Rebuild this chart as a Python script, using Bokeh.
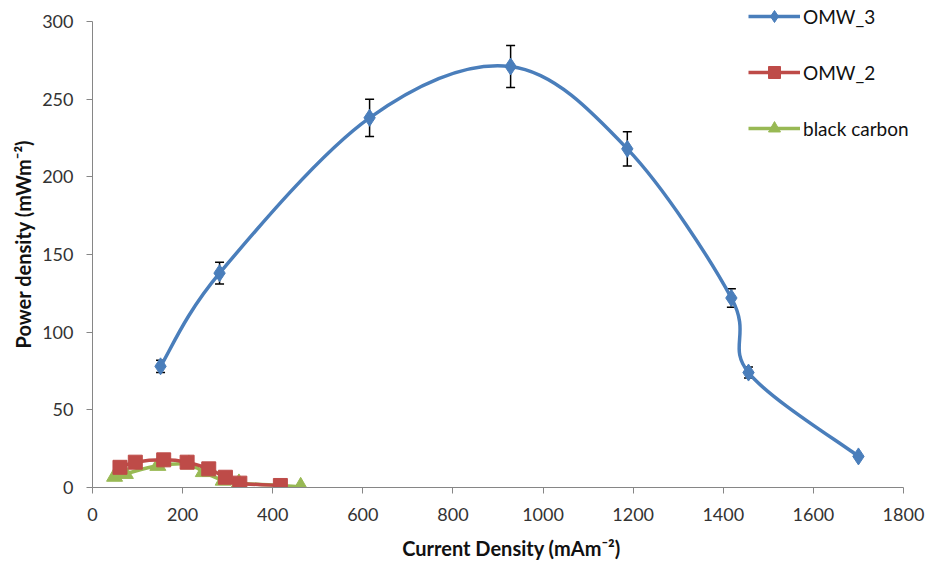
from bokeh.plotting import figure
from bokeh.models import (ColumnDataSource, Whisker, TeeHead, Legend, LegendItem,
                          FixedTicker, Range1d)
from bokeh.embed import file_html
from bokeh.resources import INLINE

# ---- data ----
omw3_x = [151, 282, 615, 928, 1187, 1418, 1456, 1700]
omw3_y = [78, 138, 238, 271, 218, 122, 74, 20]
omw3_err = [4, 7, 12, 13.5, 11, 6, 3.5, 0]

omw2_x = [61, 95, 158, 210, 258, 295, 327, 417]
omw2_y = [13, 16.3, 17.8, 16.3, 12, 6.6, 2.8, 1.3]

bc_x = [49, 73, 145, 214, 246, 290, 325, 462]
bc_y = [7, 8.8, 14, 15, 10, 4.5, 2.8, 0.6]

x_ticks = [0, 200, 400, 600, 800, 1000, 1200, 1400, 1600, 1800]
y_ticks = [0, 50, 100, 150, 200, 250, 300]
x_axis_span = (0, 1800)
y_axis_span = (0, 300)

BLUE = "#4A7EBB"
RED = "#BE4B48"
GREEN = "#98B954"
FONT = "Lato"
NAN = float("nan")

# Frame spans the whole top/right of the page so the legend is not clipped;
# the axes themselves are bounded to the data spans.
LEFT, BOTTOM = 92, 78
W, H = 930, 565
AX_RIGHT_PX, AX_TOP_PX = 903, 21
frame_w = W - LEFT
frame_h = H - BOTTOM
x_end = x_axis_span[1] * frame_w / (AX_RIGHT_PX - LEFT)
y_end = y_axis_span[1] * frame_h / (frame_h - AX_TOP_PX)


def smooth_ctrl(xs, ys):
    """Excel-style smoothed-line Bezier control points (Catmull-Rom)."""
    n = len(xs)
    segs = dict(x0=[], y0=[], x1=[], y1=[], cx0=[], cy0=[], cx1=[], cy1=[])
    for i in range(n - 1):
        pm = max(i - 1, 0)
        pp = min(i + 2, n - 1)
        segs["x0"].append(xs[i]); segs["y0"].append(ys[i])
        segs["x1"].append(xs[i + 1]); segs["y1"].append(ys[i + 1])
        segs["cx0"].append(xs[i] + (xs[i + 1] - xs[pm]) / 6)
        segs["cy0"].append(ys[i] + (ys[i + 1] - ys[pm]) / 6)
        segs["cx1"].append(xs[i + 1] - (xs[pp] - xs[i]) / 6)
        segs["cy1"].append(ys[i + 1] - (ys[pp] - ys[i]) / 6)
    return ColumnDataSource(segs)


p = figure(width=W, height=H, output_backend="svg", toolbar_location=None,
           x_range=Range1d(0, x_end), y_range=Range1d(0, y_end),
           min_border_left=LEFT, min_border_right=0, min_border_top=0,
           min_border_bottom=BOTTOM)
p.outline_line_color = None
p.xgrid.visible = False
p.ygrid.visible = False
p.background_fill_color = "white"

for ax, ticks, span in ((p.xaxis[0], x_ticks, x_axis_span),
                        (p.yaxis[0], y_ticks, y_axis_span)):
    ax.ticker = FixedTicker(ticks=ticks)
    ax.bounds = span
    ax.axis_line_color = "#868686"
    ax.major_tick_line_color = "#868686"
    ax.major_tick_out = 6
    ax.major_tick_in = 0
    ax.minor_tick_line_color = None
    ax.major_label_text_font = FONT
    ax.major_label_text_font_size = "18px"
    ax.major_label_text_color = "#333333"
    ax.axis_label_text_font = FONT
    ax.axis_label_text_font_size = "20px"
    ax.axis_label_text_font_style = "bold"
    ax.axis_label_text_color = "#111111"

p.xaxis.axis_label = "Current Density (mAm\u207b\u00b2)"
p.yaxis.axis_label = "Power density (mWm\u207b\u00b2)"
p.xaxis.major_label_standoff = 14
p.yaxis.major_label_standoff = 13
p.xaxis.axis_label_standoff = 12
p.yaxis.axis_label_standoff = 4

# error bars
src3 = ColumnDataSource(dict(x=omw3_x, y=omw3_y,
                             lo=[v - e for v, e in zip(omw3_y, omw3_err)],
                             hi=[v + e for v, e in zip(omw3_y, omw3_err)]))
wk = Whisker(source=src3, base="x", lower="lo", upper="hi",
             line_color="black", line_width=1.5,
             upper_head=TeeHead(size=9, line_color="black", line_width=1.5),
             lower_head=TeeHead(size=9, line_color="black", line_width=1.5))
p.add_layout(wk)

items = []
for xs, ys, col, marker, size, name in (
        (bc_x, bc_y, GREEN, "triangle", 16, "black carbon"),
        (omw2_x, omw2_y, RED, "square", 14, "OMW_2"),
        (omw3_x, omw3_y, BLUE, "diamond", 17, "OMW_3")):
    p.bezier(x0="x0", y0="y0", x1="x1", y1="y1", cx0="cx0", cy0="cy0",
             cx1="cx1", cy1="cy1", source=smooth_ctrl(xs, ys),
             line_color=col, line_width=3.5)
    sc = p.scatter(xs, ys, marker=marker, size=size, fill_color=col,
                   line_color=col)
    ln = p.line(x=[NAN, NAN], y=[NAN, NAN], line_color=col, line_width=3.5)
    items.append((name, [ln, sc]))

order = ["OMW_3", "OMW_2", "black carbon"]
d = dict(items)
legend = Legend(items=[LegendItem(label=n, renderers=d[n]) for n in order],
                location=(656, 344), orientation="vertical",
                background_fill_alpha=0, border_line_color=None,
                label_text_font=FONT, label_text_font_size="19px",
                label_text_color="#111111", glyph_width=52, glyph_height=30,
                spacing=26, label_standoff=3, padding=0, margin=0)
p.add_layout(legend)

open("out.html", "w").write(file_html(p, INLINE))
